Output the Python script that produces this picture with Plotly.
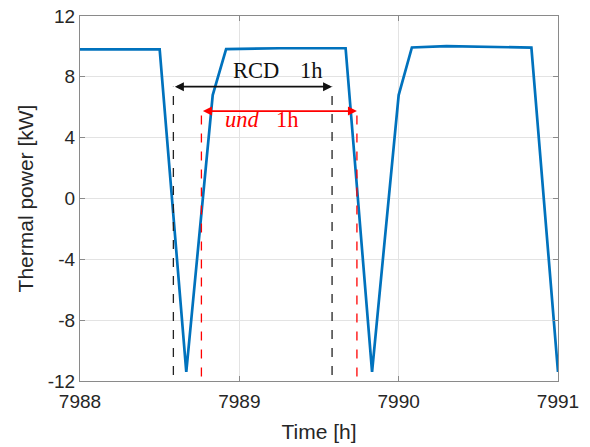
import plotly.graph_objects as go

# Data
time_h = [7988.0, 7988.5, 7988.667, 7988.833, 7988.917, 7989.25, 7989.667,
          7989.833, 7990.0, 7990.083, 7990.3, 7990.833, 7991.0]
power_kw = [9.8, 9.8, -11.4, 6.8, 9.82, 9.88, 9.88,
            -11.4, 6.8, 9.93, 10.02, 9.92, -11.4]

x_ticks = [7988, 7989, 7990, 7991]
y_ticks = [-12, -8, -4, 0, 4, 8, 12]

# Annotation markers (RCD and und intervals)
rcd_start, rcd_end, rcd_level = 7988.586, 7989.582, 7.35
und_start, und_end, und_level = 7988.762, 7989.738, 5.75
dash_bottom_black, dash_bottom_red = -11.6, -11.7

fig = go.Figure()
fig.add_trace(go.Scatter(x=time_h, y=power_kw, mode="lines",
                         line=dict(color="#0072BD", width=2.7),
                         showlegend=False, hoverinfo="skip"))

shapes = [
    dict(type="line", xref="x", yref="y", x0=rcd_start, x1=rcd_start,
         y0=dash_bottom_black, y1=rcd_level, line=dict(color="#222", width=1.3, dash="dash")),
    dict(type="line", xref="x", yref="y", x0=rcd_end, x1=rcd_end,
         y0=dash_bottom_black, y1=rcd_level, line=dict(color="#222", width=1.3, dash="dash")),
    dict(type="line", xref="x", yref="y", x0=und_start, x1=und_start,
         y0=dash_bottom_red, y1=und_level, line=dict(color="#ff0000", width=1.3, dash="dash")),
    dict(type="line", xref="x", yref="y", x0=und_end, x1=und_end,
         y0=dash_bottom_red, y1=und_level, line=dict(color="#ff0000", width=1.3, dash="dash")),
]

serif = "Liberation Serif, Times New Roman, serif"
annotations = [
    dict(x=rcd_end, y=rcd_level, ax=rcd_start, ay=rcd_level, xref="x", yref="y",
         axref="x", ayref="y", text="", showarrow=True, arrowhead=2, arrowside="end+start",
         arrowsize=1.0, arrowwidth=1.8, arrowcolor="#111"),
    dict(x=und_end, y=und_level, ax=und_start, ay=und_level, xref="x", yref="y",
         axref="x", ayref="y", text="", showarrow=True, arrowhead=2, arrowside="end+start",
         arrowsize=1.0, arrowwidth=1.8, arrowcolor="#ff0000"),
    dict(x=7989.107, y=8.42, xref="x", yref="y", text="RCD", showarrow=False,
         font=dict(family=serif, size=22.5, color="#111")),
    dict(x=7989.45, y=8.42, xref="x", yref="y", text="1h", showarrow=False,
         font=dict(family=serif, size=22.5, color="#111")),
    dict(x=7989.02, y=5.18, xref="x", yref="y", text="<i>und</i>", showarrow=False,
         font=dict(family=serif, size=22.5, color="#ff0000")),
    dict(x=7989.305, y=5.18, xref="x", yref="y", text="1h", showarrow=False,
         font=dict(family=serif, size=22.5, color="#ff0000")),
]

axis_font = dict(family="Liberation Sans, Arial, sans-serif", size=19, color="#262626")
fig.update_layout(
    width=590, height=447,
    margin=dict(l=80, r=32, t=16, b=66, autoexpand=False),
    paper_bgcolor="white", plot_bgcolor="white",
    shapes=shapes, annotations=annotations,
    xaxis=dict(range=[7988, 7991], tickvals=x_ticks, ticktext=[str(v) for v in x_ticks],
               showgrid=True, gridcolor="#e3e3e3", gridwidth=1,
               showline=True, linecolor="#8a8a8a", linewidth=1.2, mirror="ticks",
               ticks="inside", ticklen=5, tickcolor="#8a8a8a", automargin=False,
               tickfont=axis_font, zeroline=False, ticklabelstandoff=3,
               title=dict(text="Time [h]", font=dict(family=axis_font["family"], size=21, color="#262626"),
                          standoff=13)),
    yaxis=dict(range=[-12, 12], tickvals=y_ticks, ticktext=[str(v) for v in y_ticks],
               showgrid=True, gridcolor="#e3e3e3", gridwidth=1,
               showline=True, linecolor="#8a8a8a", linewidth=1.2, mirror="ticks",
               ticks="inside", ticklen=5, tickcolor="#8a8a8a", automargin=False,
               tickfont=axis_font, zeroline=False,
               title=dict(text="Thermal power [kW]", font=dict(family=axis_font["family"], size=21, color="#262626"),
                          standoff=8)),
)

fig.write_html("out.html")
